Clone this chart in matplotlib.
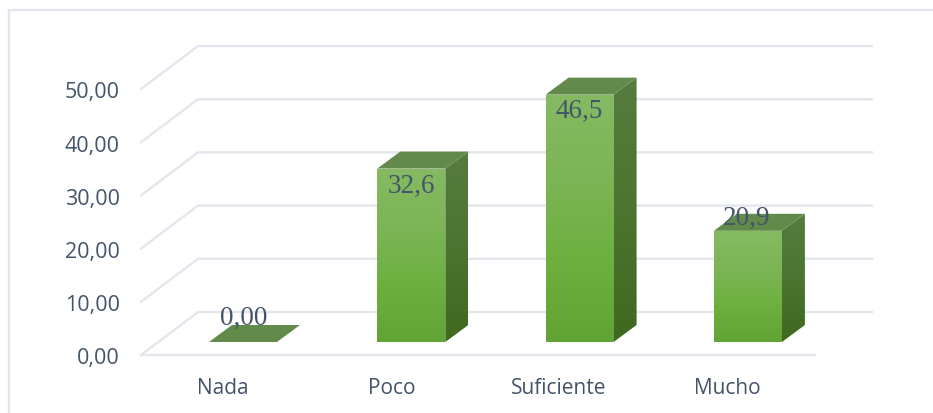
import matplotlib
matplotlib.use("Agg")
import matplotlib.pyplot as plt
import numpy as np
from matplotlib.colors import LinearSegmentedColormap
from matplotlib.patches import Polygon

categories = ["Nada", "Poco", "Suficiente", "Mucho"]
values = [0.0, 32.6, 46.5, 20.9]
value_labels = ["0,00", "32,6", "46,5", "20,9"]
y_ticks = [0, 10, 20, 30, 40, 50]
y_tick_labels = ["0,00", "10,00", "20,00", "30,00", "40,00", "50,00"]

W, H = 933, 414
TEXT = "#44546A"
GRID = "#E3E6EC"

# pixel <-> data mapping: one category step is 168.3 px, one value unit 5.32 px
STEP_X = 168.3
STEP_Y = 5.32
X0 = 243.0
Y0 = 343.0


def xd(px):
    return (px - X0) / STEP_X


def yd(py):
    return (Y0 - py) / STEP_Y


BAR_W = 68 / STEP_X
DEPTH_X = 23 / STEP_X
DEPTH_Y = 17 / STEP_Y
FLOOR = yd(356)
WALL_DX = 57 / STEP_X
WALL_DY = 43 / STEP_Y
LEFT = xd(141)
RIGHT_FRONT = xd(815)

face_cmap = LinearSegmentedColormap.from_list(
    "face", ["#85BA62", "#7CB556", "#6DB03F", "#62A335"])
side_cmap = LinearSegmentedColormap.from_list(
    "side", ["#567C3F", "#4B7530", "#3F691F"])
grad = np.linspace(0, 1, 256).reshape(-1, 1)

fig = plt.figure(figsize=(W / 100, H / 100), dpi=100)
ax = fig.add_axes([0, 0, 1, 1])
ax.axis("off")
xlim = (xd(0), xd(W))
ylim = (yd(H), yd(0))

# chart frame: only left and top edges are visible
ax.plot([xd(8.5), xd(8.5), xd(W)], [yd(H), yd(11), yd(11)], color=GRID, lw=1.7,
        solid_joinstyle="miter", zorder=1)

# walls and floor
for i, t in enumerate(y_ticks):
    y = FLOOR + t
    right = LEFT + WALL_DX + (RIGHT_FRONT - LEFT)
    ax.plot([LEFT, LEFT + WALL_DX, right], [y, y + WALL_DY, y + WALL_DY],
            color=GRID, lw=1.7, solid_joinstyle="miter", zorder=1)
ax.plot([LEFT, RIGHT_FRONT], [FLOOR, FLOOR], color=GRID, lw=1.7, zorder=1)


def shaded(poly, cmap, top, bottom, left, right):
    im = ax.imshow(grad, cmap=cmap, aspect="auto", zorder=3,
                   extent=(left, right, bottom, top), origin="upper")
    patch = Polygon(poly, transform=ax.transData, fc="none", ec="none")
    ax.add_patch(patch)
    im.set_clip_path(patch)


for i, v in enumerate(values):
    l, r = i - BAR_W / 2, i + BAR_W / 2
    if v > 0:
        shaded([(l, 0), (r, 0), (r, v), (l, v)], face_cmap, v, 0, l, r)
        side = [(r, 0), (r + DEPTH_X, DEPTH_Y), (r + DEPTH_X, v + DEPTH_Y), (r, v)]
        shaded(side, side_cmap, v + DEPTH_Y, 0, r, r + DEPTH_X)
    ax.add_patch(Polygon([(l, v), (r, v), (r + DEPTH_X, v + DEPTH_Y), (l + DEPTH_X, v + DEPTH_Y)],
                         fc="#628A4A", ec="none", zorder=4))

# data labels (serif, sit on the top of each bar)
label_xy = [(243.5, 318), (411.5, 186), (579, 111), (746, 218)]
for lab, (px, py) in zip(value_labels, label_xy):
    ax.text(xd(px), yd(py), lab, ha="center", va="center", color=TEXT, fontsize=19.5,
            family="Liberation Serif", zorder=5)

for t, lab in zip(y_ticks, y_tick_labels):
    ax.text(xd(120), FLOOR + t - 3 / STEP_Y, lab, ha="right", va="center", color=TEXT, fontsize=15.5,
            family="Open Sans", zorder=5)

label_px = [223, 392, 559, 727]
for px, lab in zip(label_px, categories):
    ax.text(xd(px), yd(389), lab, ha="center", va="center", color=TEXT, fontsize=15,
            family="Open Sans", zorder=5)

ax.set_xlim(*xlim)
ax.set_ylim(*ylim)
fig.savefig("out.png", dpi=100)
